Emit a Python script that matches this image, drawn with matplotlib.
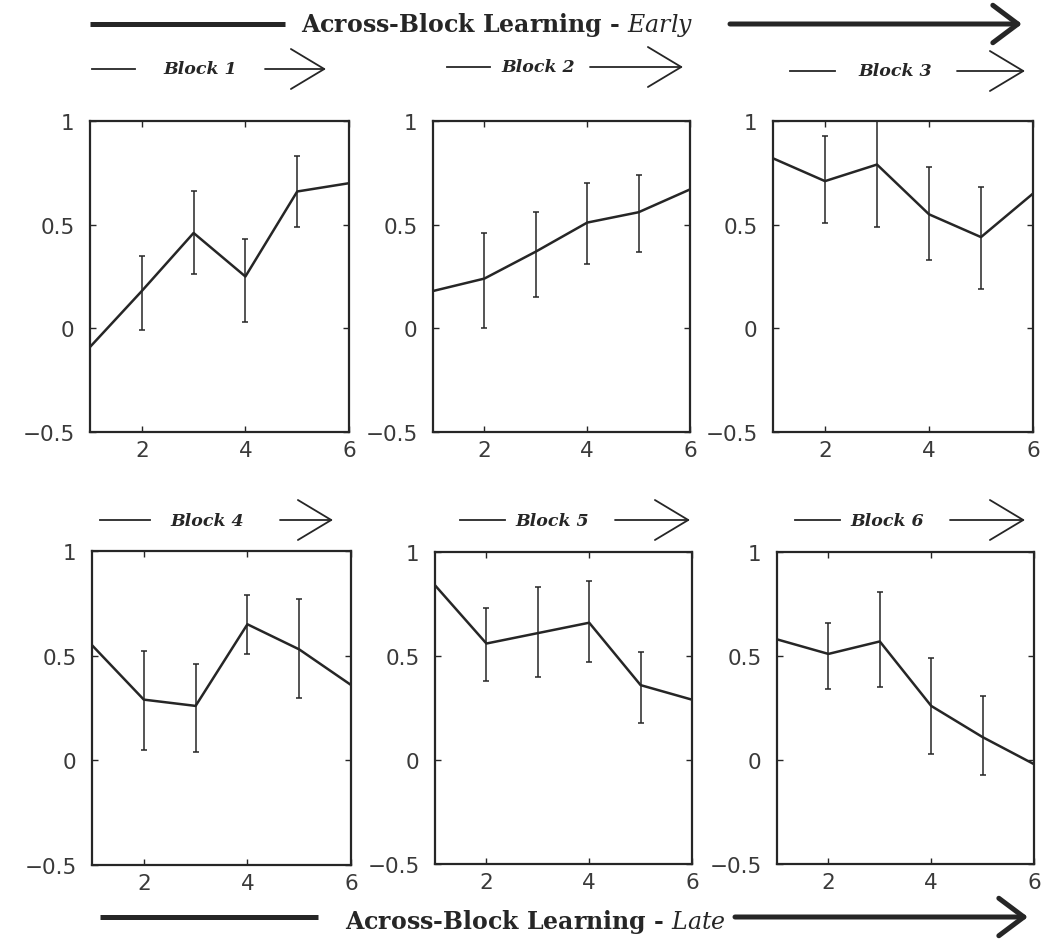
import matplotlib
matplotlib.use("Agg")
import matplotlib.pyplot as plt
from matplotlib.lines import Line2D
from matplotlib.patches import FancyArrowPatch

plt.rcParams['mathtext.fontset'] = 'custom'
plt.rcParams['mathtext.it'] = 'DejaVu Serif:italic'
plt.rcParams['mathtext.rm'] = 'DejaVu Serif'

# trial number within each block
trials = [1, 2, 3, 4, 5, 6]
err_trials = [2, 3, 4, 5]

block_names = ["Block 1", "Block 2", "Block 3", "Block 4", "Block 5", "Block 6"]

# mean values
mean1 = [-0.09, 0.18, 0.46, 0.25, 0.66, 0.70]
mean2 = [0.18, 0.24, 0.37, 0.51, 0.56, 0.67]
mean3 = [0.82, 0.71, 0.79, 0.55, 0.44, 0.65]
mean4 = [0.55, 0.29, 0.26, 0.65, 0.53, 0.36]
mean5 = [0.84, 0.56, 0.61, 0.66, 0.36, 0.29]
mean6 = [0.58, 0.51, 0.57, 0.26, 0.11, -0.02]

# error bar ends for trials 2-5
lo1 = [-0.01, 0.26, 0.03, 0.49]
hi1 = [0.35, 0.66, 0.43, 0.83]
lo2 = [0.00, 0.15, 0.31, 0.37]
hi2 = [0.46, 0.56, 0.70, 0.74]
lo3 = [0.51, 0.49, 0.33, 0.19]
hi3 = [0.93, 1.00, 0.78, 0.68]
lo4 = [0.05, 0.04, 0.51, 0.30]
hi4 = [0.52, 0.46, 0.79, 0.77]
lo5 = [0.38, 0.40, 0.47, 0.18]
hi5 = [0.73, 0.83, 0.86, 0.52]
lo6 = [0.34, 0.35, 0.03, -0.07]
hi6 = [0.66, 0.81, 0.49, 0.31]

means = [mean1, mean2, mean3, mean4, mean5, mean6]
los = [lo1, lo2, lo3, lo4, lo5, lo6]
his = [hi1, hi2, hi3, hi4, hi5, hi6]

W, H = 1050, 945
fig = plt.figure(figsize=(W / 100, H / 100), dpi=100)

def fx(px):
    return px / W

def fy(py):
    return 1 - py / H

# panel boxes in pixels: left, top, right, bottom
boxes = [(90, 122, 349, 433), (433, 122, 690, 433), (773, 122, 1033, 433),
         (92, 552, 351, 866), (435, 553, 692, 865), (777, 553, 1034, 865)]

ink = '#262626'

for i in range(6):
    l, t, r, b = boxes[i]
    ax = fig.add_axes([fx(l), fy(b), (r - l) / W, (b - t) / H])
    m = means[i]
    ax.plot(trials, m, color=ink, lw=1.8, clip_on=True)
    em = m[1:5]
    yerr = [[em[k] - los[i][k] for k in range(4)], [his[i][k] - em[k] for k in range(4)]]
    ax.errorbar(err_trials, em, yerr=yerr, fmt='none', ecolor=ink, elinewidth=1.1, capsize=2.5, capthick=1.1)
    ax.set_xlim(1, 6)
    ax.set_ylim(-0.5, 1)
    ax.set_xticks([2, 4, 6])
    ax.set_yticks([-0.5, 0, 0.5, 1])
    ax.set_yticklabels(['\u22120.5', '0', '0.5', '1'])
    ax.tick_params(direction='in', top=True, right=True, length=4, width=1,
                   labelsize=15.5, labelcolor='#3a3a3a', color=ink)
    ax.tick_params(axis='y', pad=11)
    ax.tick_params(axis='x', pad=6)
    for sp in ax.spines.values():
        sp.set_linewidth(1.6)
        sp.set_color(ink)

def big_arrow(x0, x1, x2, x3, y):
    fig.add_artist(Line2D([fx(x0), fx(x1)], [fy(y), fy(y)], transform=fig.transFigure,
                          color=ink, lw=3.6, solid_capstyle='butt'))
    fig.add_artist(FancyArrowPatch((fx(x2), fy(y)), (fx(x3), fy(y)), transform=fig.transFigure,
                                   arrowstyle='->,head_length=1.0,head_width=0.75', mutation_scale=18,
                                   color=ink, lw=3.6, shrinkA=0, shrinkB=0))

def small_arrow(x0, x1, x2, x3, y, label, tx):
    fig.add_artist(Line2D([fx(x0), fx(x1)], [fy(y), fy(y)], transform=fig.transFigure,
                          color=ink, lw=1.3))
    fig.add_artist(FancyArrowPatch((fx(x2), fy(y)), (fx(x3), fy(y)), transform=fig.transFigure,
                                   arrowstyle='->,head_length=1.2,head_width=0.72', mutation_scale=20,
                                   color=ink, lw=1.3, shrinkA=0, shrinkB=0))
    fig.text(fx(tx), fy(y), label, family='DejaVu Serif', fontweight='bold', fontstyle='italic',
             fontsize=12.5, ha='center', va='center', color=ink)

big_arrow(90, 285, 730, 1022, 25)
fig.text(fx(497), fy(25), 'Across-Block Learning - $\\mathit{Early}$', family='DejaVu Serif',
         fontweight='bold', fontsize=17, ha='center', va='center', color=ink)

small_arrow(92, 135, 265, 326, 70, block_names[0], 200)
small_arrow(447, 490, 590, 683, 68, block_names[1], 538)
small_arrow(790, 835, 957, 1025, 72, block_names[2], 895)
small_arrow(100, 150, 280, 333, 521, block_names[3], 207)
small_arrow(460, 505, 615, 690, 521, block_names[4], 552)
small_arrow(795, 840, 950, 1025, 521, block_names[5], 887)

big_arrow(100, 318, 735, 1028, 918)
fig.text(fx(535), fy(922), 'Across-Block Learning - $\\mathit{Late}$', family='DejaVu Serif',
         fontweight='bold', fontsize=17, ha='center', va='center', color=ink)

fig.savefig('out.png', dpi=100)
